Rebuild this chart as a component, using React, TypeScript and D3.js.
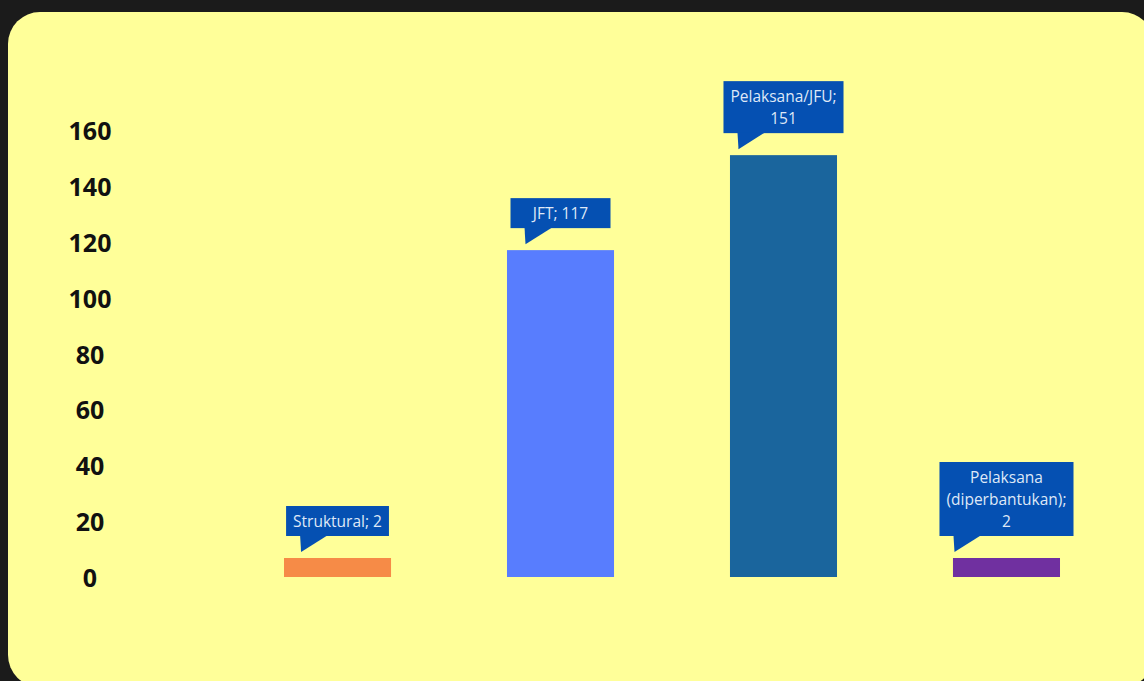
import React from "react";
import * as d3 from "d3";

const categories = ["Struktural", "JFT", "Pelaksana/JFU", "Pelaksana (diperbantukan)"];
const values = [2, 117, 151, 2];
const barColors = ["#f68b47", "#587dfe", "#1a659d", "#7030a0"];
const yTicks = [0, 20, 40, 60, 80, 100, 120, 140, 160];

const W = 1144;
const H = 681;
const LABEL_SIZE = 15.5;
const LABEL_FONT = `${LABEL_SIZE}px 'Open Sans'`;

function wrapWords(text: string, maxChars: number): string[] {
  const words = text.split(" ");
  const lines: string[] = [];
  let cur = "";
  for (const w of words) {
    if (!cur) cur = w;
    else if ((cur + " " + w).length <= maxChars) cur = cur + " " + w;
    else {
      lines.push(cur);
      cur = w;
    }
  }
  if (cur) lines.push(cur);
  return lines;
}

let ctx: CanvasRenderingContext2D | null = null;
function measure(t: string): number {
  if (!ctx) ctx = document.createElement("canvas").getContext("2d");
  if (!ctx) return t.length * 8;
  ctx.font = LABEL_FONT;
  return ctx.measureText(t).width;
}

export default function App() {
  const x = d3
    .scaleBand<string>()
    .domain(categories)
    .range([172.5, 1171.5])
    .paddingInner(0.52)
    .paddingOuter(0.5);
  const y = d3.scaleLinear().domain([0, 160]).range([577, 130]);
  const minBarH = 19;

  return (
    <svg
      width={W}
      height={H}
      style={{ position: "absolute", left: 0, top: 0, display: "block" }}
    >
      <rect x={0} y={0} width={W} height={H} fill="#1b1b1b" />
      <rect x={8} y={12} width={1146} height={675} rx={32} ry={32} fill="#ffff99" />

      {yTicks.map((t) => (
        <text
          key={t}
          x={90}
          y={y(t)}
          textAnchor="middle"
          dominantBaseline="central"
          fontFamily="'Open Sans', sans-serif"
          fontWeight={700}
          fontSize={25}
          fill="#111111"
        >
          {t}
        </text>
      ))}

      {categories.map((c, i) => {
        const bx = x(c) as number;
        const bw = x.bandwidth();
        const h = Math.max(y(0) - y(values[i]), minBarH);
        const top = y(0) - h;
        const lines = wrapWords(`${c}; ${values[i]}`, 15);
        const textW = Math.max(...lines.map(measure));
        const boxW = Math.max(100, textW + 14);
        const boxH = 8 + lines.length * 22;
        const cx = bx + bw / 2;
        const boxL = cx - boxW / 2;
        const tip = top - 6;
        const boxB = tip - 16;
        const boxT = boxB - boxH;
        const tail = `M${boxL + 14},${boxB - 1} L${boxL + 42},${boxB - 1} L${boxL + 15},${tip} Z`;
        return (
          <g key={c}>
            <rect x={bx} y={top} width={bw} height={h} fill={barColors[i]} />
            <rect x={boxL} y={boxT} width={boxW} height={boxH} fill="#0550b2" />
            <path d={tail} fill="#0550b2" />
            {lines.map((ln, j) => (
              <text
                key={j}
                x={cx}
                y={boxT + 15 + j * 22}
                textAnchor="middle"
                dominantBaseline="central"
                fontFamily="'Open Sans', sans-serif"
                fontSize={LABEL_SIZE}
                fill="#dfe8f7"
              >
                {ln}
              </text>
            ))}
          </g>
        );
      })}
    </svg>
  );
}
